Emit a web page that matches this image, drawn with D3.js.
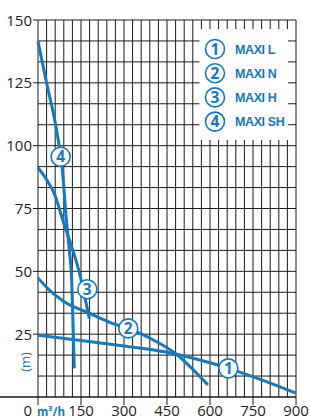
<!DOCTYPE html>
<html>
<head>
<meta charset="utf-8">
<script src="https://cdn.jsdelivr.net/npm/d3@7"></script>
<style>
body { margin:0; background:#fff; }
svg text { font-family: "Open Sans", "Noto Sans", sans-serif; }
</style>
</head>
<body>
<div id="chart"></div>
<script>
// pump curves, flow (m3/h) vs head (m)
var flowTicks = [0,150,300,450,600,750,900]
var headTicks = [25,50,75,100,125,150]

var curveL  = [[0,24.6],[150,22.5],[300,20.3],[450,17.8],[565,14.7],[665,11.4],[780,6.8],[900,1.5]]
var curveN  = [[0,47.4],[40,42.5],[90,38],[180,33.3],[257,29.4],[315,27.3],[380,24],[485,16.8],[540,11],[593,4.8]]
var curveH  = [[0,91.2],[30,86.5],[59,80.4],[88,69.8],[117.5,59.8],[146.5,48.5],[164,39.4],[179,31.3]]
var curveSH = [[0,141.5],[30,125],[65,106],[85,90.3],[98,71.7],[109,58.5],[117.5,46.6],[122,30],[126.6,11.4]]

var curveNums   = ["1","2","3","4"]
var curveNames  = ["MAXI L","MAXI N","MAXI H","MAXI SH"]
var labelPoints = [[664,11.4],[315,27.3],[172,42.9],[79,95.6]]

var w = 310, h = 420
var blue = "#1479bd"

var svg = d3.select("#chart").append("svg")
	.attr("width", w)
	.attr("height", h)

var x = d3.scaleLinear().domain([0,900]).range([38,296])
var y = d3.scaleLinear().domain([0,150]).range([397,20])

var grid = svg.append("g").attr("stroke","#1a1a1a").attr("stroke-width",1)

// vertical lines every 30 m3/h
grid.selectAll("line.v")
	.data(d3.range(0,901,30))
	.enter().append("line")
	.attr("class","v")
	.attr("x1", function(d){ return x(d) })
	.attr("x2", function(d){ return x(d) })
	.attr("y1", y(150))
	.attr("y2", y(0))

// horizontal lines, 3 per 25 m
grid.selectAll("line.h")
	.data(d3.range(1,19))
	.enter().append("line")
	.attr("class","h")
	.attr("x1", x(0))
	.attr("x2", x(900))
	.attr("y1", function(d){ return y(d*150/18) })
	.attr("y2", function(d){ return y(d*150/18) })

// y ticks
grid.selectAll("line.yt")
	.data(headTicks)
	.enter().append("line")
	.attr("x1", x(0)-5)
	.attr("x2", x(0))
	.attr("y1", function(d){ return y(d) })
	.attr("y2", function(d){ return y(d) })

// x ticks
grid.selectAll("line.xt")
	.data(flowTicks)
	.enter().append("line")
	.attr("x1", function(d){ return x(d) })
	.attr("x2", function(d){ return x(d) })
	.attr("y1", y(0))
	.attr("y2", y(0)+8)

// base line
svg.append("line")
	.attr("x1",0).attr("x2",x(900))
	.attr("y1",y(0)).attr("y2",y(0))
	.attr("stroke","#1a1a1a").attr("stroke-width",1.5)

// tick labels
svg.selectAll("text.yl")
	.data(headTicks)
	.enter().append("text")
	.attr("x", 32)
	.attr("y", function(d){ return y(d)+5.5 })
	.attr("text-anchor","end")
	.attr("font-size",15)
	.attr("fill","#222")
	.text(function(d){ return d })

svg.selectAll("text.xl")
	.data(flowTicks)
	.enter().append("text")
	.attr("x", function(d){ return d==0 ? 32 : x(d) })
	.attr("y", 416)
	.attr("text-anchor", function(d){ return d==0 ? "end" : "middle" })
	.attr("font-size",15)
	.attr("fill","#222")
	.text(function(d){ return d })

svg.append("text")
	.attr("x",37).attr("y",416)
	.attr("font-size",11.5).attr("font-weight","bold")
	.attr("fill",blue)
	.text("m³/h")

svg.append("text")
	.attr("transform","translate(25,362) rotate(-90)")
	.attr("text-anchor","middle")
	.attr("dominant-baseline","central")
	.attr("font-size",13)
	.attr("fill",blue)
	.text("(m)")

// curves
var line = d3.line()
	.x(function(d){ return x(d[0]) })
	.y(function(d){ return y(d[1]) })
	.curve(d3.curveMonotoneX)

svg.append("g")
	.selectAll("path")
	.data([curveL, curveN, curveH, curveSH])
	.enter().append("path")
	.attr("d", line)
	.attr("fill","none")
	.attr("stroke",blue)
	.attr("stroke-width",3)

// number badges on curves
function badge(g, cx, cy, num)
{
	g.append("circle")
		.attr("cx",cx).attr("cy",cy).attr("r",9.5)
		.attr("fill","#fff").attr("stroke",blue).attr("stroke-width",1.6)
	g.append("text")
		.attr("x",cx).attr("y",cy+5.5)
		.attr("text-anchor","middle")
		.attr("font-size",15.5).attr("font-weight","bold")
		.attr("fill",blue)
		.text(num)
}

var badges = svg.append("g")
for(var i=0;i<labelPoints.length;i++)
	badge(badges, x(labelPoints[i][0]), y(labelPoints[i][1]), curveNums[i])

// legend box
svg.append("rect")
	.attr("x",199.5).attr("y",29).attr("width",88.5).attr("height",111)
	.attr("fill","#fff")

var leg = svg.append("g")
for(i=0;i<curveNames.length;i++)
{
	var ly = 49 + i*24.2
	badge(leg, 215, ly, curveNums[i])
	leg.append("text")
		.attr("x",235).attr("y",ly+4.5)
		.attr("font-size",12.5).attr("font-weight","bold")
		.attr("letter-spacing",-0.4)
		.style("font-family","'Liberation Sans',Arial,sans-serif")
		.attr("fill",blue)
		.text(curveNames[i])
}
</script>
</body>
</html>
